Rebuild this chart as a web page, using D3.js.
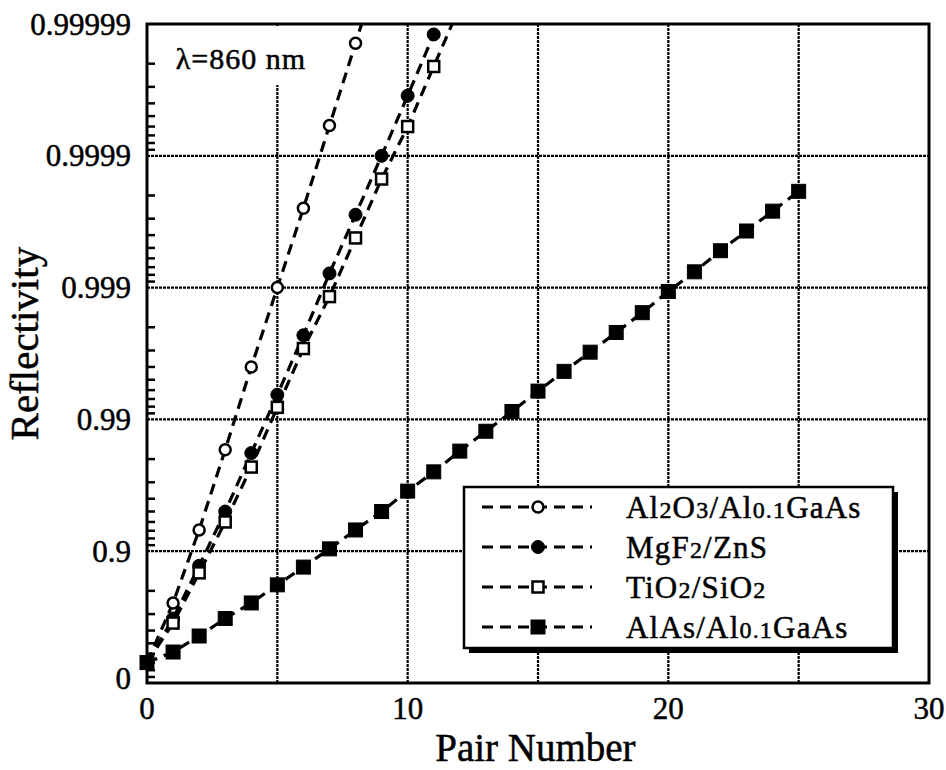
<!DOCTYPE html>
<html>
<head>
<meta charset="utf-8">
<script src="https://cdn.jsdelivr.net/npm/d3@7"></script>
</head>
<body style="margin:0">
<div id="canvas"></div>
<script>
// pair number on x, reflectivity on y (plotted as log of 1-R)
const pairs4 = [0, 1, 2, 3, 4, 5, 6, 7, 8];
const al2o3 = [0.300, 0.753, 0.931, 0.983, 0.9960, 0.9990, 0.99975, 0.999941, 0.999986];

const pairs11 = [0, 1, 2, 3, 4, 5, 6, 7, 8, 9, 10, 11];
const mgf2 = [0.300, 0.676, 0.871, 0.950, 0.982, 0.9935, 0.9977, 0.99922, 0.99972, 0.99990, 0.999965, 0.999988];
const tio2 = [0.300, 0.649, 0.854, 0.940, 0.977, 0.9919, 0.9971, 0.99883, 0.99958, 0.99985, 0.999940, 0.999979];

const pairs25 = [0, 1, 2, 3, 4, 5, 6, 7, 8, 9, 10, 11, 12, 13, 14, 15, 16, 17, 18, 19, 20, 21, 22, 23, 24, 25];
const alas = [0.300, 0.418, 0.560, 0.676, 0.753, 0.820, 0.868, 0.904, 0.931, 0.950, 0.965, 0.975, 0.9826,
              0.9877, 0.99129, 0.99390, 0.99568, 0.99691, 0.99781, 0.99845, 0.99893, 0.999241, 0.999475,
              0.999628, 0.999737, 0.999814];

const seriesNames = ["Al2O3/Al0.1GaAs", "MgF2/ZnS", "TiO2/SiO2", "AlAs/Al0.1GaAs"];

const xTicks = [0, 10, 20, 30];
const xGrid = [5, 10, 15, 20, 25];
const yTickValues = [0, 0.9, 0.99, 0.999, 0.9999, 0.99999];
const yTickLabels = ["0", "0.9", "0.99", "0.999", "0.9999", "0.99999"];

const series = [
    { name: seriesNames[0], x: pairs4, r: al2o3, marker: "circle", filled: false, extend: true },
    { name: seriesNames[1], x: pairs11, r: mgf2, marker: "circle", filled: true, extend: true },
    { name: seriesNames[2], x: pairs11, r: tio2, marker: "square", filled: false, extend: true },
    { name: seriesNames[3], x: pairs25, r: alas, marker: "square", filled: true, extend: false }
];

const FONT = '"Liberation Serif"';

const width = 946;
const height = 770;
const margin = { top: 24, left: 147, bottom: 87, right: 17 };
const iwidth = width - margin.left - margin.right;
const iheight = height - margin.top - margin.bottom;

const svg = d3.select("#canvas").append("svg")
    .attr("width", width)
    .attr("height", height);

const g = svg.append("g").attr("transform", `translate(${margin.left},${margin.top})`);

const x = d3.scaleLinear().domain([0, 30]).range([0, iwidth]);
// y works on the loss 1-R, log scale from 1 (R=0) to 1e-5
const yLoss = d3.scaleLog().domain([1, 1e-5]).range([iheight, 0]);
const y = r => yLoss(1 - r);

svg.append("defs").append("clipPath").attr("id", "plotclip")
    .append("rect").attr("width", iwidth).attr("height", iheight);

function txt(sel, size) {
    return sel.style("font-family", FONT)
        .style("font-size", size + "px")
        .attr("fill", "#000")
        .attr("stroke", "#000")
        .attr("stroke-width", 0.5);
}

// grid
const grid = g.append("g")
    .attr("stroke", "#000")
    .attr("stroke-width", 2.2)
    .attr("stroke-dasharray", "3,1");
grid.selectAll(".gx").data(xGrid).enter().append("line")
    .attr("x1", d => x(d)).attr("x2", d => x(d))
    .attr("y1", 0).attr("y2", iheight);
grid.selectAll(".gy").data(yTickValues.slice(1, -1)).enter().append("line")
    .attr("x1", 0).attr("x2", iwidth)
    .attr("y1", d => y(d)).attr("y2", d => y(d));

// minor ticks on left axis (inside)
const minor = yLoss.ticks().filter(v => Math.abs(Math.log10(v) - Math.round(Math.log10(v))) > 1e-6);
g.append("g").selectAll("line").data(minor).enter().append("line")
    .attr("x1", 0).attr("x2", 8)
    .attr("y1", d => yLoss(d)).attr("y2", d => yLoss(d))
    .attr("stroke", "#000").attr("stroke-width", 2.5);

// wavelength note, gridline broken behind it
const lam = g.append("g");
const lamText = txt(lam.append("text"), 30)
    .attr("x", x(1.1)).attr("y", 45)
    .attr("letter-spacing", 1)
    .text("λ=860 nm");
const bb = lamText.node().getBBox();
lam.insert("rect", "text")
    .attr("x", bb.x - 4).attr("y", 2).attr("width", bb.width + 8).attr("height", bb.y + bb.height + 8)
    .attr("fill", "#fff");

// lines
const line = d3.line().x(d => d[0]).y(d => d[1]);
const plot = g.append("g").attr("clip-path", "url(#plotclip)");

series.forEach(s => {
    const pts = s.x.map((v, i) => [x(v), y(s.r[i])]);
    if (s.extend) {
        const a = pts[pts.length - 2], b = pts[pts.length - 1];
        pts.push([b[0] + (b[0] - a[0]), b[1] + (b[1] - a[1])]);
    }
    plot.append("path")
        .attr("d", line(pts))
        .attr("fill", "none")
        .attr("stroke", "#000")
        .attr("stroke-width", 3.2)
        .attr("stroke-dasharray", "11,7");
});

function drawMarker(sel, s, cx, cy) {
    if (s.marker === "circle") {
        sel.append("circle")
            .attr("cx", cx).attr("cy", cy)
            .attr("r", s.filled ? 6.5 : 5.5)
            .attr("fill", s.filled ? "#000" : "#fff")
            .attr("stroke", "#000").attr("stroke-width", s.filled ? 1 : 2.5);
    } else {
        const sz = s.filled ? 14 : 11;
        sel.append("rect")
            .attr("x", cx - sz / 2).attr("y", cy - sz / 2)
            .attr("width", sz).attr("height", sz)
            .attr("fill", s.filled ? "#000" : "#fff")
            .attr("stroke", "#000").attr("stroke-width", s.filled ? 1 : 2.5);
    }
}

series.forEach(s => {
    const mg = g.append("g");
    s.x.forEach((v, i) => drawMarker(mg, s, x(v), y(s.r[i])));
});

// frame
g.append("rect")
    .attr("width", iwidth).attr("height", iheight)
    .attr("fill", "none").attr("stroke", "#000").attr("stroke-width", 3);

// tick labels
txt(g.selectAll(".xl").data(xTicks).enter().append("text"), 31)
    .attr("x", d => x(d)).attr("y", iheight + 36)
    .attr("text-anchor", "middle")
    .text(d => d);

txt(g.selectAll(".yl").data(yTickValues).enter().append("text"), 31)
    .attr("x", -16).attr("y", d => y(d))
    .attr("dy", (d, i) => i === 0 ? "0.2em" : "0.34em")
    .attr("text-anchor", "end")
    .text((d, i) => yTickLabels[i]);

// axis titles
txt(svg.append("text"), 39)
    .attr("x", margin.left + x(14.9)).attr("y", 761)
    .attr("text-anchor", "middle")
    .text("Pair Number");

txt(svg.append("text"), 41)
    .attr("transform", `translate(38, ${margin.top + iheight * 0.485}) rotate(-90)`)
    .attr("text-anchor", "middle")
    .text("Reflectivity");

// legend
function addLabel(sel, label) {
    label.split(/(\d+(?:\.\d+)?)/).filter(p => p.length).forEach(p => {
        sel.append("tspan")
            .style("font-size", /^\d/.test(p) ? "24px" : "31px")
            .text(p);
    });
}

const legend = svg.append("g").attr("transform", "translate(464,487)");
const lw = 429, lh = 161;
legend.append("rect").attr("x", 5).attr("y", 5).attr("width", lw).attr("height", lh).attr("fill", "#000");
legend.append("rect").attr("width", lw).attr("height", lh)
    .attr("fill", "#fff").attr("stroke", "#000").attr("stroke-width", 2.5);

series.forEach((s, i) => {
    const row = legend.append("g").attr("transform", `translate(0, ${20 + i * 40})`);
    row.append("line")
        .attr("x1", 18).attr("x2", 128)
        .attr("stroke", "#000").attr("stroke-width", 3)
        .attr("stroke-dasharray", "11,7");
    drawMarker(row, s, 74, 0);
    const t = txt(row.append("text"), 31).attr("x", 162).attr("y", 11)
        .attr("letter-spacing", 1.2);
    addLabel(t, s.name);
});
</script>
</body>
</html>
